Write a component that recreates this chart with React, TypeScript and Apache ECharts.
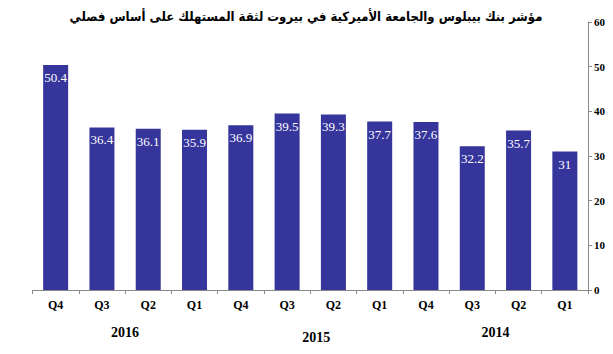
import React, { useEffect, useRef } from "react";
import * as echarts from "echarts";

const TITLE = "مؤشر بنك بيبلوس والجامعة الأميركية في بيروت لثقة المستهلك على أساس فصلي";
const QUARTERS = ["Q4", "Q3", "Q2", "Q1", "Q4", "Q3", "Q2", "Q1", "Q4", "Q3", "Q2", "Q1"];
const YEARS = ["2016", "2015", "2014"];
const VALUES = [50.4, 36.4, 36.1, 35.9, 36.9, 39.5, 39.3, 37.7, 37.6, 32.2, 35.7, 31];

const SERIF = "Times New Roman, Liberation Serif, serif";

export default function App() {
  const ref = useRef<HTMLDivElement>(null);
  useEffect(() => {
    if (!ref.current) return;
    const chart = echarts.init(ref.current, null, { renderer: "svg" });
    chart.setOption({
      animation: false,
      backgroundColor: "#ffffff",
      grid: { left: 32.5, right: 25, top: 22, bottom: 64 },
      graphic: [
        {
          type: "text",
          x: 306,
          y: 16,
          style: {
            text: TITLE,
            fill: "#000",
            fontFamily: "DejaVu Sans Condensed",
            fontWeight: "bold",
            fontSize: 13,
            textAlign: "center",
            textVerticalAlign: "middle",
          },
        },
      ],
      xAxis: [
        {
          type: "category",
          data: QUARTERS,
          position: "bottom",
          axisLine: { show: true, lineStyle: { color: "#888", width: 1 } },
          axisTick: { show: true, length: 4, lineStyle: { color: "#888" } },
          axisLabel: {
            color: "#000",
            fontFamily: SERIF,
            fontWeight: "bold",
            fontSize: 12,
            margin: 9,
          },
        },
        {
          type: "category",
          data: YEARS,
          position: "bottom",
          offset: 0,
          axisLine: { show: false },
          axisTick: { show: false },
          axisLabel: {
            margin: 35,
            formatter: (v: string) => (v === "2015" ? `{b|${v}}` : `{a|${v}}`),
            rich: {
              a: { color: "#000", fontFamily: SERIF, fontWeight: "bold", fontSize: 14 },
              b: {
                color: "#000",
                fontFamily: SERIF,
                fontWeight: "bold",
                fontSize: 14,
                padding: [5, 0, 0, 12],
              },
            },
          },
        },
      ],
      yAxis: {
        type: "value",
        position: "right",
        min: 0,
        max: 60,
        interval: 10,
        splitLine: { show: false },
        axisLine: { show: true, lineStyle: { color: "#888", width: 1 } },
        axisTick: { show: true, length: 4, lineStyle: { color: "#888" } },
        axisLabel: {
          color: "#000",
          fontFamily: SERIF,
          fontWeight: "bold",
          fontSize: 11,
          margin: 6,
        },
      },
      series: [
        {
          type: "bar",
          data: VALUES,
          xAxisIndex: 0,
          barWidth: 25,
          itemStyle: { color: "#35359b" },
          label: {
            show: true,
            position: "insideTop",
            distance: 6,
            color: "#fff",
            fontFamily: SERIF,
            fontSize: 13,
          },
        },
      ],
    });
    return () => chart.dispose();
  }, []);
  return <div ref={ref} style={{ width: 613, height: 354, margin: -8 }} />;
}
